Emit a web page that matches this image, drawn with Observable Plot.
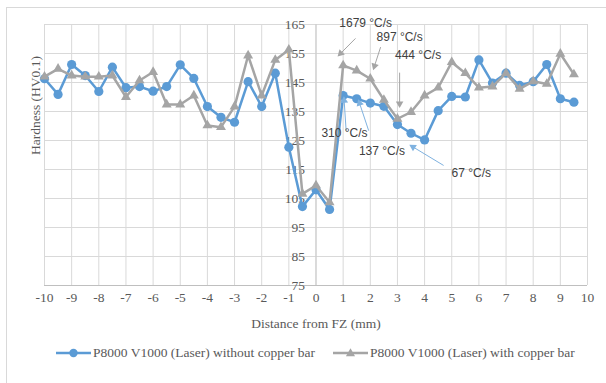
<!DOCTYPE html>
<html><head><meta charset="utf-8">
<script src="https://cdn.jsdelivr.net/npm/d3@7"></script>
<script src="https://cdn.jsdelivr.net/npm/@observablehq/plot@0.6"></script>
<style>
html,body{margin:0;padding:0;background:#fff;width:606px;height:383px;overflow:hidden;}
#wrap{position:relative;width:606px;height:383px;}
#frame{position:absolute;left:6px;top:7px;width:700px;height:500px;border-left:1px solid #d9d9d9;border-top:1px solid #d9d9d9;}
#chart{position:absolute;left:0;top:0;}
#legend{position:absolute;left:0;top:340px;width:606px;height:26px;font-family:"Liberation Serif","Times New Roman","DejaVu Serif",serif;font-size:13.5px;color:#595959;}
.item{position:absolute;top:0;height:26px;display:flex;align-items:center;white-space:nowrap;}
.item svg{display:block;margin-right:2px;}
</style></head><body>
<div id="wrap"><div id="frame"></div><div id="chart"></div><div id="legend"></div></div>
<script>
// ---- data ----
const distance = [-10,-9.5,-9,-8.5,-8,-7.5,-7,-6.5,-6,-5.5,-5,-4.5,-4,-3.5,-3,-2.5,-2,-1.5,-1,-0.5,0,0.5,1,1.5,2,2.5,3,3.5,4,4.5,5,5.5,6,6.5,7,7.5,8,8.5,9,9.5];
const withoutCopper = [146.3,140.9,151.2,147.4,141.9,150.3,143.2,143.6,142.0,143.6,151.1,146.4,136.7,133.0,131.3,145.3,136.7,148.2,122.7,102.2,108.0,101.2,140.5,139.4,137.9,136.8,130.5,127.5,125.2,135.3,140.2,140.0,152.8,144.8,148.2,144.0,145.3,151.2,139.4,138.2];
const withCopper = [147.0,149.7,147.4,147.0,147.0,147.4,140.0,145.7,148.6,137.4,137.4,140.5,130.2,129.6,136.7,154.3,140.5,152.8,156.3,106.6,109.5,103.7,150.9,149.1,146.3,139.0,132.5,134.8,140.5,143.2,152.0,148.2,143.2,143.6,148.2,142.8,145.4,144.5,154.9,147.8];
const seriesNames = ["P8000 V1000 (Laser) without copper bar","P8000 V1000 (Laser) with copper bar"];
const xTicks = [-10,-9,-8,-7,-6,-5,-4,-3,-2,-1,0,1,2,3,4,5,6,7,8,9,10];
const yTicks = [75,85,95,105,115,125,135,145,155,165];
const xTitle = "Distance from FZ (mm)";
const yTitle = "Hardness (HV0.1)";

// annotations (data coordinates)
const annoText = ["1679 °C/s","897 °C/s","444 °C/s","310 °C/s","137 °C/s","67 °C/s"];
const annoX = [1.83,3.08,3.76,1.05,2.43,5.72];
const annoY = [165.4,160.6,154.3,127.5,121.3,113.6];
const arrowX1 = [1.455,2.38,3.08,1.11,1.94,4.70];
const arrowY1 = [160.2,157.2,148.4,128.4,128.4,116.4];
const arrowX2 = [0.83,2.12,3.08,1.03,1.57,3.48];
const arrowY2 = [154.3,149.7,136.7,139.8,138.8,123.3];
const arrowKind = ["gray","gray","gray","blue","blue","blue"];

// ---- style ----
const BLUE = "#5b9bd5", GRAY = "#a5a5a5";
const ARROW = {gray: "#a5a5a5", blue: "#7fb2e0"};
const W = 606, H = 340, ML = 44, MR = 19, MT = 24, MB = 55;
const SERIF = '"Liberation Serif","Times New Roman","DejaVu Serif",serif';
const SANS = '"Liberation Sans",Arial,sans-serif';
const FS = 13.5;

const rowsA = distance.map((x,i)=>({x, y: withoutCopper[i]}));
const rowsB = distance.map((x,i)=>({x, y: withCopper[i]}));
const annos = annoText.map((t,i)=>({text:t, x:annoX[i], y:annoY[i]}));
const arrows = annoText.map((t,i)=>({x1:arrowX1[i], y1:arrowY1[i], x2:arrowX2[i], y2:arrowY2[i], kind:arrowKind[i]}));

const xs = Plot.scale({x:{domain:[-10,10], range:[ML, W-MR]}});
const ys = Plot.scale({y:{domain:[75,165], range:[H-MB, MT]}});
const heads = arrows.map(a=>{
  const px1 = xs.apply(a.x1), py1 = ys.apply(a.y1), px2 = xs.apply(a.x2), py2 = ys.apply(a.y2);
  const dx = px2-px1, dy = py2-py1, len = Math.hypot(dx,dy);
  const ux = dx/len, uy = dy/len;
  return {x: xs.invert(px2-ux*3), y: ys.invert(py2-uy*3), angle: Math.atan2(dx,-dy)*180/Math.PI, kind:a.kind};
});

const plot = Plot.plot({
  width: W, height: H, marginLeft: ML, marginRight: MR, marginTop: MT, marginBottom: MB,
  x: {domain:[-10,10], axis:null},
  y: {domain:[75,165], axis:null},
  style: {fontFamily: SERIF, fontSize: FS + "px", background: "transparent", overflow: "visible"},
  marks: [
    Plot.ruleX(xTicks, {stroke:"#d9d9d9", strokeWidth:1}),
    Plot.ruleY(yTicks, {stroke:"#d9d9d9", strokeWidth:1}),
    Plot.ruleY([75], {stroke:"#bfbfbf", strokeWidth:1}),
    Plot.ruleX([0], {stroke:"#c9c9c9", strokeWidth:1}),
    Plot.text(xTicks, {x:d=>d, frameAnchor:"bottom", dy:16, text:d=>String(d), fill:"#595959", fontFamily:SERIF, fontSize:FS}),
    Plot.text(yTicks, {x:d=>0, y:d=>d, dx:-11, textAnchor:"end", text:d=>String(d), fill:"#595959", fontFamily:SERIF, fontSize:FS}),
    Plot.text([yTitle], {frameAnchor:"left", dx:-9, rotate:-90, text:d=>d, fill:"#595959", fontFamily:SERIF, fontSize:FS}),
    Plot.text([xTitle], {frameAnchor:"bottom", dy:42, text:d=>d, fill:"#595959", fontFamily:SERIF, fontSize:FS}),
    Plot.line(rowsA, {x:"x", y:"y", stroke:BLUE, strokeWidth:2.5}),
    Plot.dot(rowsA, {x:"x", y:"y", r:4.6, fill:BLUE, stroke:"none"}),
    Plot.line(rowsB, {x:"x", y:"y", stroke:GRAY, strokeWidth:2.5}),
    Plot.dot(rowsB, {x:"x", y:"y", r:3.7, symbol:"triangle", fill:GRAY, stroke:"none"}),
    Plot.link(arrows.filter(a=>a.kind==="gray"), {x1:"x1", y1:"y1", x2:"x2", y2:"y2", stroke:ARROW.gray, strokeWidth:1}),
    Plot.link(arrows.filter(a=>a.kind==="blue"), {x1:"x1", y1:"y1", x2:"x2", y2:"y2", stroke:ARROW.blue, strokeWidth:1}),
    Plot.dot(heads.filter(h=>h.kind==="gray"), {x:"x", y:"y", rotate:"angle", symbol:"triangle", r:2.8, fill:ARROW.gray, stroke:"none"}),
    Plot.dot(heads.filter(h=>h.kind==="blue"), {x:"x", y:"y", rotate:"angle", symbol:"triangle", r:2.8, fill:ARROW.blue, stroke:"none"}),
    Plot.text(annos, {x:"x", y:"y", text:"text", fill:"#404040", fontFamily:SANS, fontSize:12})
  ]
});
document.getElementById("chart").appendChild(plot);

// ---- legend ----
const legend = d3.select("#legend");
const legendLeft = [56, 333];
seriesNames.forEach((name,i)=>{
  const it = legend.append("div").attr("class","item").style("left", legendLeft[i]+"px");
  const s = it.append("svg").attr("width",35).attr("height",12);
  const c = i===0 ? BLUE : GRAY;
  s.append("line").attr("x1",0).attr("x2",35).attr("y1",6).attr("y2",6).attr("stroke",c).attr("stroke-width",2.5);
  if (i===0) s.append("circle").attr("cx",17.5).attr("cy",6).attr("r",4.2).attr("fill",c);
  else s.append("path").attr("d", d3.symbol(d3.symbolTriangle, 36)()).attr("transform","translate(17.5,6.5)").attr("fill",c);
  it.append("span").text(name);
});
</script>
</body></html>
